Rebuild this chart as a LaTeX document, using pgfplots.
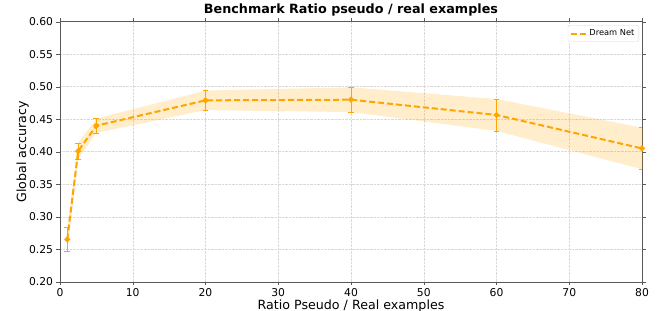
\documentclass[border=0pt]{standalone}
\usepackage{pgfplots}
\pgfplotsset{compat=1.18}
\usepgfplotslibrary{fillbetween}
\usepackage{fontspec}
\setmainfont{DejaVu Sans}
\definecolor{orng}{HTML}{FFA500}
\begin{document}
\begin{tikzpicture}
\begin{axis}[
  scale only axis, width=582bp, height=260bp,
  xmin=0, xmax=80, ymin=0.20, ymax=0.60,
  xtick={0,10,...,80},
  ytick={0.20,0.25,...,0.60},
  yticklabel style={/pgf/number format/fixed,/pgf/number format/fixed zerofill,/pgf/number format/precision=2},
  /pgf/number format/assume math mode=true,
  ticklabel style={font=\fontsize{10.8}{12}\selectfont},
  grid=major,
  major grid style={gray!30, densely dotted},
  axis line style={gray!70!black},
  tick style={gray!70!black},
  tick align=outside,
  major tick length=3.5bp,
  title={\bfseries Benchmark Ratio pseudo / real examples},
  title style={font=\fontsize{12.8}{14}\selectfont, at={(0.5,1)}, anchor=base, yshift=2.4bp},
  xlabel={Ratio Pseudo / Real examples},
  ylabel={Global accuracy},
  label style={font=\fontsize{12.7}{14}\selectfont},
  xlabel style={at={(0.5,0)}, anchor=base, yshift=-27.5bp},
  ylabel style={at={(0,0.5)}, anchor=base, yshift=34bp},
  legend style={at={(0.995,0.987)}, anchor=north east, font=\fontsize{8.3}{9}\selectfont, draw=gray!30, rounded corners=1.5pt, inner sep=2.5pt},
  legend cell align=left,
]
\addplot[name path=up, draw=none, forget plot] coordinates {(1,0.283) (2.5,0.414) (5,0.451) (20,0.494) (40,0.499) (60,0.481) (80,0.437)};
\addplot[name path=lo, draw=none, forget plot] coordinates {(1,0.247) (2.5,0.389) (5,0.429) (20,0.464) (40,0.461) (60,0.432) (80,0.373)};
\addplot[orng, fill opacity=0.2, draw=none, forget plot] fill between[of=up and lo];
\addplot[orng, line width=2bp, dash pattern=on 6bp off 3bp, mark=*, mark size=1.8pt, mark options={solid},
  legend image code/.code={\draw[orng, line width=2bp, dash pattern=on 6bp off 3bp] (0cm,0cm) -- (15bp,0cm);},
  error bars/.cd, y dir=both, y explicit, error bar style={solid, line width=0.7pt}, error mark options={rotate=90, mark size=3pt, line width=0.7pt, solid}]
  coordinates {
  (1,0.265) +- (0,0.018)
  (2.5,0.401) +- (0,0.0125)
  (5,0.440) +- (0,0.011)
  (20,0.479) +- (0,0.015)
  (40,0.480) +- (0,0.019)
  (60,0.4565) +- (0,0.0245)
  (80,0.405) +- (0,0.032)
  };
\addlegendentry{Dream Net}
\end{axis}
\pgfresetboundingbox
\useasboundingbox (-60bp,-29.3bp) rectangle (608bp,281.7bp);
\end{tikzpicture}
\end{document}
